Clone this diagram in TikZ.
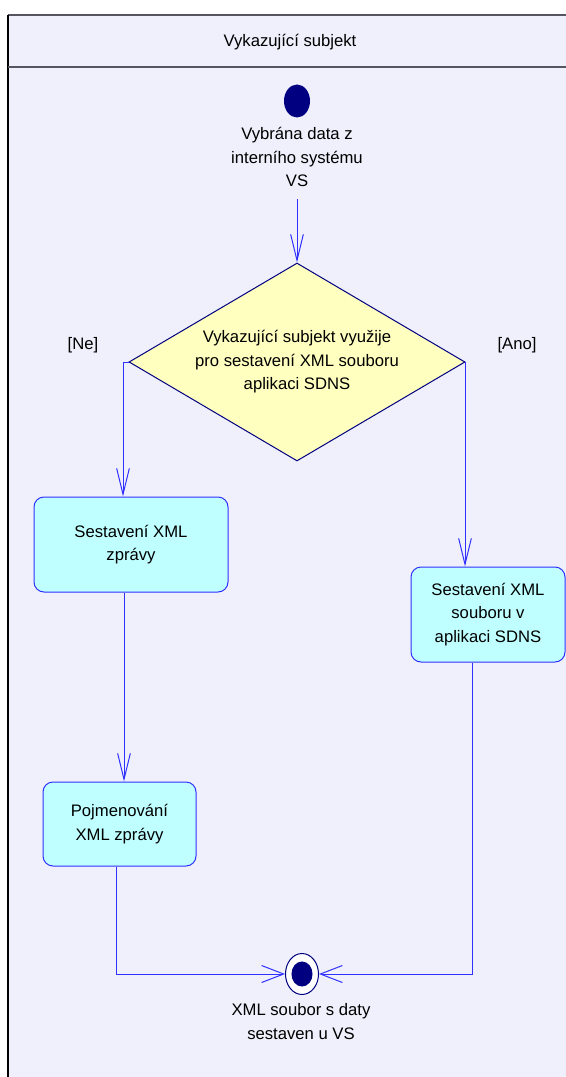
\documentclass[tikz,border=0pt]{standalone}
\usepackage{fontspec}
\setmainfont{Liberation Sans}
\usetikzlibrary{arrows.meta,shapes.geometric}
\begin{document}
\begin{tikzpicture}[x=0.75pt,y=-0.75pt,
  every node/.style={font=\fontsize{12.5}{17.6}\selectfont,align=center},
  flow/.style={draw=flowc,line width=0.75pt,-{Straight Barb[length=19.5pt,width=9.5pt]}},
  flowend/.style={draw=flowc,line width=0.75pt,-{Straight Barb[length=16.5pt,width=12.75pt]}},
  actbox/.style={draw=flowc,fill=actfill,rounded corners=7.5pt,line width=0.75pt,inner sep=0pt},
  decide/.style={diamond,aspect=1.7,draw=dotc,fill=decfill,line width=0.75pt,inner sep=0pt,
    minimum width=252pt,minimum height=148.5pt},
  startdot/.style={ellipse,fill=dotc,inner sep=0pt,minimum width=19.5pt,minimum height=24.75pt},
  enddot/.style={ellipse,draw=dotc,fill=white,line width=0.75pt,inner sep=0pt,
    minimum width=24.75pt,minimum height=30.75pt}]
 \definecolor{lane}{HTML}{F0F0FC}
 \definecolor{laneline}{HTML}{555560}
 \definecolor{flowc}{HTML}{3030FF}
 \definecolor{actfill}{HTML}{C0FFFF}
 \definecolor{decfill}{HTML}{FFFFC0}
 \definecolor{dotc}{HTML}{000080}
 \useasboundingbox (0,0) rectangle (566,1077);
 \fill [lane] (8,15) rectangle (566,1077);
 \draw [laneline,line width=1pt] (566,15) -- (8,15);
 \draw [black,line width=1pt] (8,15) -- (8,1077);
 \draw [laneline,line width=1pt] (8,67) -- (566,67);
 \node (lanetitle) at (290,42) {Vykazující subjekt};
 \node [startdot] (start) at (297,101) {};
 \node (startlbl) at (297,157) {Vybrána data z\\interního systému\\VS};
 \coordinate (s0) at (297,199);
 \node [decide] (dec) at (297,362) {Vykazující subjekt využije\\pro sestavení XML souboru\\aplikaci SDNS};
 \node (nelbl) at (83,345) {[Ne]};
 \node (anolbl) at (517,345) {[Ano]};
 \node [actbox,minimum width=145.5pt,minimum height=71.25pt] (sest) at (131,544.5) {Sestavení XML\\zprávy};
 \node [actbox,minimum width=115.5pt,minimum height=71.25pt] (gen) at (488,614.5) {Sestavení XML\\souboru v\\aplikaci SDNS};
 \node [actbox,minimum width=114.75pt,minimum height=63pt] (name) at (119.5,824) {Pojmenování\\XML zprávy};
 \node [enddot] (end) at (302,974) {};
 \fill [dotc] (end.center) ellipse (7.9pt and 9.4pt);
 \node (endlbl) at (301,1021.5) {XML soubor s daty\\sestaven u VS};
 \draw [flow] (s0) -- (dec.north);
 \draw [flow] (dec.west) -| ([xshift=-6pt]sest.north);
 \draw [flow] (dec.east) -| ([xshift=-17.25pt]gen.north);
 \draw [flow] ([xshift=-5.25pt]sest.south) -- ([xshift=-5.25pt]sest.south |- name.north);
 \draw [flowend] ([xshift=-2.6pt]name.south) |- (end.west);
 \draw [flowend] ([xshift=-12pt]gen.south) |- (end.east);
\end{tikzpicture}
\end{document}
